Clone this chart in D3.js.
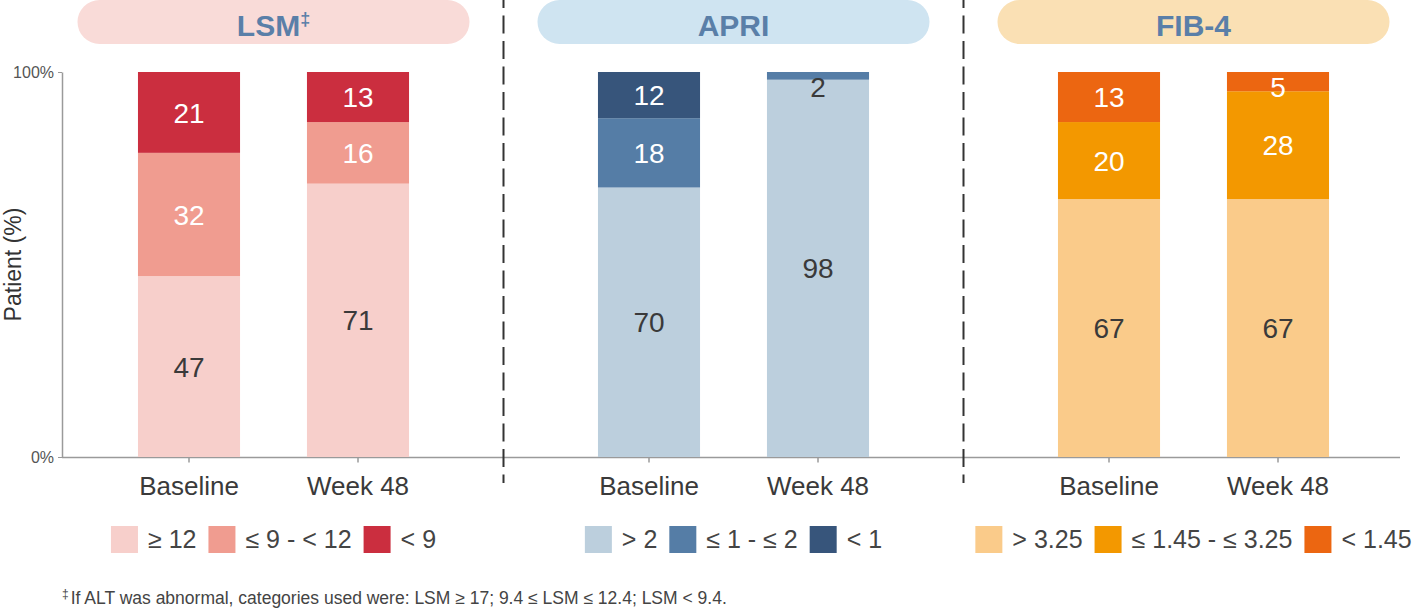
<!DOCTYPE html>
<html>
<head>
<meta charset="utf-8">
<script src="https://cdn.jsdelivr.net/npm/d3@7"></script>
<style>
  html, body { margin: 0; padding: 0; background: #fff; }
  svg { display: block; font-family: "Liberation Sans", Arial, Helvetica, sans-serif; }
</style>
</head>
<body>
<svg id="chart" width="1427" height="609"></svg>
<script>
(function () {
  'use strict';

  // ---- data (values bottom -> top of each stack) ----
  const PANELS      = ['LSM', 'APRI', 'FIB-4'];
  const TIMEPOINTS  = ['Baseline', 'Week 48'];
  const LSM_VALUES  = [[47, 32, 21], [71, 16, 13]];
  const APRI_VALUES = [[70, 18, 12], [98, 2, 0]];
  const FIB4_VALUES = [[67, 20, 13], [67, 28, 5]];
  const LSM_CATS    = ['≥ 12', '≤ 9 - < 12', '< 9'];
  const APRI_CATS   = ['> 2', '≤ 1 - ≤ 2', '< 1'];
  const FIB4_CATS   = ['> 3.25', '≤ 1.45 - ≤ 3.25', '< 1.45'];
  const Y_TICKS     = [0, 100];
  const FOOTNOTE    = 'If ALT was abnormal, categories used were: LSM ≥ 17; 9.4 ≤ LSM ≤ 12.4; LSM < 9.4.';

  const LSM_COLORS  = ['#F7CFCB', '#F09C90', '#CB2E3F'];
  const APRI_COLORS = ['#BCCFDD', '#557DA6', '#37557B'];
  const FIB4_COLORS = ['#FACB8A', '#F39800', '#EC6611'];
  const PILL_COLORS = ['#F9DBD8', '#CFE4F1', '#FAE0B4'];
  const TITLE_COLOR = '#5A7FA8';
  const DARK_TEXT   = '#3a3a3a';

  const panelData = [
    { name: 'LSM',   values: LSM_VALUES,  cats: LSM_CATS,  colors: LSM_COLORS,  sup: true },
    { name: 'APRI',  values: APRI_VALUES, cats: APRI_CATS, colors: APRI_COLORS },
    { name: 'FIB-4', values: FIB4_VALUES, cats: FIB4_CATS, colors: FIB4_COLORS },
  ];

  const svg = d3.select('#chart');

  const Y0 = 457, Y1 = 72;
  const AXIS_X = 62, AXIS_END = 1400;

  const y = d3.scaleLinear().domain([0, 100]).range([Y0, Y1]);
  const outer = d3.scaleBand().domain(PANELS).range([43.5, 1423.5]);
  const inner = d3.scaleBand().domain(TIMEPOINTS).range([0, outer.bandwidth()])
    .paddingInner(0.396).paddingOuter(0.559);

  // baseline (x axis line)
  svg.append('line')
    .attr('x1', AXIS_X).attr('x2', AXIS_END)
    .attr('y1', Y0 + 0.5).attr('y2', Y0 + 0.5)
    .attr('stroke', '#9a9a9a').attr('stroke-width', 1.5);

  // y axis
  const yAxis = svg.append('g')
    .attr('transform', `translate(${AXIS_X},0)`)
    .call(d3.axisLeft(y).tickValues(Y_TICKS).tickFormat(d => d + '%')
      .tickSize(4).tickSizeOuter(0).tickPadding(4));
  yAxis.select('.domain').attr('stroke', '#9a9a9a').attr('stroke-width', 1.5);
  yAxis.selectAll('.tick line').attr('stroke', '#9a9a9a');
  yAxis.selectAll('.tick text')
    .attr('font-size', 16).attr('fill', '#555')
    .attr('font-family', '"Liberation Sans", Arial, sans-serif');

  svg.append('text')
    .attr('transform', `translate(21,${(Y0 + Y1) / 2}) rotate(-90)`)
    .attr('text-anchor', 'middle')
    .attr('font-size', 23)
    .attr('fill', '#333')
    .text('Patient (%)');

  // dashed dividers
  PANELS.slice(1).forEach(p => {
    svg.append('line')
      .attr('x1', outer(p)).attr('x2', outer(p))
      .attr('y1', 0).attr('y2', 483)
      .attr('stroke', '#333').attr('stroke-width', 2)
      .attr('stroke-dasharray', '18,7.5')
      .attr('stroke-dashoffset', 10);
  });

  panelData.forEach((pd, pi) => {
    const g = svg.append('g').attr('transform', `translate(${outer(pd.name)},0)`);
    const cx = outer.bandwidth() / 2;

    // title pill
    g.append('rect')
      .attr('x', cx - 196).attr('y', 0)
      .attr('width', 392).attr('height', 44)
      .attr('rx', 22)
      .attr('fill', PILL_COLORS[pi]);
    const title = g.append('text')
      .attr('x', cx).attr('y', 36)
      .attr('text-anchor', 'middle')
      .attr('font-size', 30).attr('font-weight', 'bold')
      .attr('fill', TITLE_COLOR)
      .text(pd.name);
    if (pd.sup) {
      title.append('tspan').attr('font-size', 18).attr('dy', -11).text('‡');
    }

    // stacked bars
    const rows = TIMEPOINTS.map((t, i) => {
      const r = { time: t };
      pd.values[i].forEach((v, k) => { r[k] = v; });
      return r;
    });
    const series = d3.stack().keys([0, 1, 2])(rows);

    series.forEach((s, k) => {
      s.forEach(d => {
        const v = d[1] - d[0];
        if (v <= 0) return;
        const x0 = inner(d.data.time);
        const yt = y(d[1]), yb = y(d[0]);
        g.append('rect')
          .attr('x', x0).attr('width', inner.bandwidth())
          .attr('y', yt).attr('height', yb - yt)
          .attr('fill', pd.colors[k]);
      });
    });

    // value labels (after bars so they sit on top)
    series.forEach((s, k) => {
      s.forEach(d => {
        const v = d[1] - d[0];
        if (v <= 0) return;
        const yt = y(d[1]), yb = y(d[0]);
        const h = yb - yt;
        const ly = Math.max((yt + yb) / 2, Y1 + 15);
        g.append('text')
          .attr('x', inner(d.data.time) + inner.bandwidth() / 2)
          .attr('y', ly)
          .attr('dy', '0.36em')
          .attr('text-anchor', 'middle')
          .attr('font-size', 28)
          .attr('fill', (k === 0 || h < 12) ? DARK_TEXT : '#fff')
          .text(v);
      });
    });

    // x axis ticks + labels
    const xAxis = g.append('g')
      .attr('transform', `translate(0,${Y0 + 0.5})`)
      .call(d3.axisBottom(inner).tickSize(5).tickSizeOuter(0).tickPadding(14));
    xAxis.select('.domain').remove();
    xAxis.selectAll('.tick line').attr('stroke', '#9a9a9a').attr('stroke-width', 1.5);
    xAxis.selectAll('.tick text')
      .attr('font-size', 26).attr('fill', DARK_TEXT)
      .attr('font-family', '"Liberation Sans", Arial, sans-serif');

    // legend, centred under panel
    const lg = g.append('g');
    const SQ = 27, GAP = 10, ITEM_GAP = 12;
    let xPos = 0;
    pd.cats.forEach((c, k) => {
      lg.append('rect')
        .attr('x', xPos).attr('y', 526)
        .attr('width', SQ).attr('height', SQ)
        .attr('fill', pd.colors[k]);
      const t = lg.append('text')
        .attr('x', xPos + SQ + GAP).attr('y', 548)
        .attr('font-size', 25).attr('fill', '#444')
        .text(c);
      xPos += SQ + GAP + t.node().getComputedTextLength() + ITEM_GAP;
    });
    const lw = xPos - ITEM_GAP;
    lg.attr('transform', `translate(${cx - lw / 2},0)`);
  });

  // footnote
  const fn = svg.append('text')
    .attr('x', 62).attr('y', 604)
    .attr('font-size', 17.5).attr('fill', '#444');
  fn.append('tspan').attr('font-size', 12).attr('dy', -6).text('‡');
  fn.append('tspan').attr('dy', 6).attr('dx', 2).text(FOOTNOTE);
})();
</script>
</body>
</html>
